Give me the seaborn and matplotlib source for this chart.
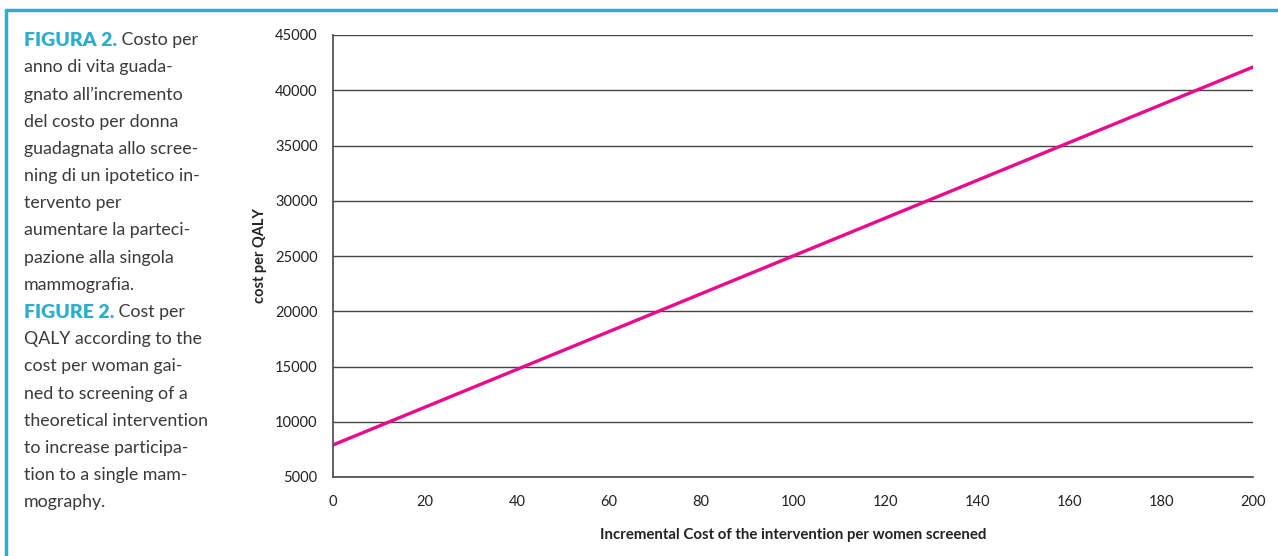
import matplotlib
matplotlib.use("Agg")
import matplotlib.pyplot as plt
import seaborn as sns
import pandas as pd
from matplotlib.lines import Line2D

sns.set_theme(style="white")
plt.rcParams['font.family'] = ['Lato', 'DejaVu Sans']

# data
incremental_cost = [0, 100, 200]
cost_per_qaly = [7900, 25000, 42100]
x_ticks = [0, 20, 40, 60, 80, 100, 120, 140, 160, 180, 200]
y_ticks = [5000, 10000, 15000, 20000, 25000, 30000, 35000, 40000, 45000]

caption = [
    ("FIGURA 2.", " Costo per"),
    ("", "anno di vita guada-"),
    ("", "gnato all\u2019incremento"),
    ("", "del costo per donna"),
    ("", "guadagnata allo scree-"),
    ("", "ning di un ipotetico in-"),
    ("", "tervento per"),
    ("", "aumentare la parteci-"),
    ("", "pazione alla singola"),
    ("", "mammografia."),
    ("FIGURE 2.", " Cost per"),
    ("", "QALY according to the"),
    ("", "cost per woman gai-"),
    ("", "ned to screening of a"),
    ("", "theoretical intervention"),
    ("", "to increase participa-"),
    ("", "tion to a single mam-"),
    ("", "mography."),
]

df = pd.DataFrame({"x": incremental_cost, "y": cost_per_qaly})

cyan = "#2EAECB"
grey_txt = "#3a3a3a"
axis_col = "#555555"

fig = plt.figure(figsize=(12.78, 5.56), dpi=100)
ax = fig.add_axes([333 / 1278, 79 / 556, 920 / 1278, 442 / 556])

sns.lineplot(data=df, x="x", y="y", ax=ax, color="#EC0A8C", linewidth=2.4)

ax.set_xlim(0, 200)
ax.set_ylim(5000, 45000)
ax.set_xticks(x_ticks)
ax.set_yticks(y_ticks)
ax.yaxis.grid(True, color="#444444", linewidth=1.0)
ax.set_axisbelow(True)
for s in ["top", "right"]:
    ax.spines[s].set_visible(False)
for s in ["left", "bottom"]:
    ax.spines[s].set_color(axis_col)
    ax.spines[s].set_linewidth(1.3)
ax.tick_params(axis="both", direction="out", length=5, width=1, color=axis_col,
               labelsize=10.5, labelcolor="#222222")
ax.tick_params(axis="x", pad=8)
ax.tick_params(axis="y", pad=6)
ax.set_xlabel("Incremental Cost of the intervention per women screened",
              fontsize=10.8, fontweight="bold", color="#222222", labelpad=14)
ax.set_ylabel("cost per QALY", fontsize=10.5, fontweight="bold", color="#222222", labelpad=6)

# frame of the figure panel
fig.add_artist(Line2D([6 / 1278, 1.0], [1 - 10 / 556, 1 - 10 / 556], color=cyan, linewidth=2.5))
fig.add_artist(Line2D([6 / 1278, 6 / 1278], [0, 1 - 10 / 556], color=cyan, linewidth=2.5))

# caption
y0 = 40
step = 27.2
for i, (bold, rest) in enumerate(caption):
    yy = 1 - (y0 + i * step) / 556
    if bold:
        t = fig.text(24 / 1278, yy, bold, fontsize=14, fontweight="heavy",
                     color=cyan, va="center", ha="left")
        ax.annotate(rest, xy=(1, 0.5), xycoords=t, va="center", ha="left",
                    fontsize=12.8, color=grey_txt, annotation_clip=False)
    else:
        fig.text(24 / 1278, yy, rest, fontsize=12.8, color=grey_txt,
                 va="center", ha="left")

fig.savefig("out.png", dpi=100)
